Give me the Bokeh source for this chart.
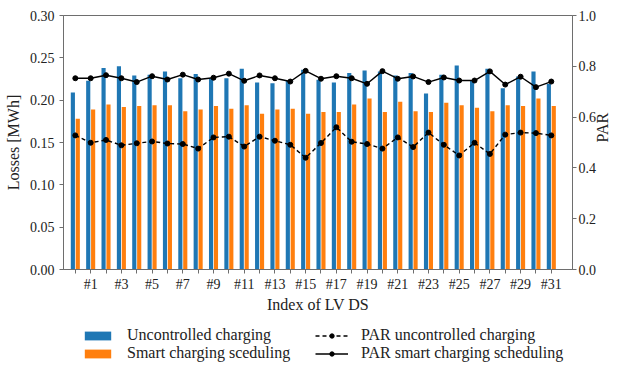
import math
from bokeh.plotting import figure
from bokeh.layouts import column
from bokeh.models import (ColumnDataSource, Range1d, LinearAxis, FixedTicker,
                          Legend, LegendItem, NumeralTickFormatter)
from bokeh.transform import dodge
from bokeh.embed import file_html
from bokeh.resources import INLINE

# Index of LV distribution systems (0..31) and their tick labels
ds_index = list(range(32))
tick_labels = {i: (f"#{i}" if i % 2 == 1 else "") for i in ds_index}

# Energy losses per LV DS [MWh]
losses_uncontrolled = [0.209, 0.223, 0.238, 0.240, 0.229, 0.230, 0.234, 0.226,
                       0.231, 0.225, 0.226, 0.237, 0.221, 0.220, 0.223, 0.236,
                       0.224, 0.221, 0.232, 0.235, 0.234, 0.229, 0.232, 0.208,
                       0.230, 0.241, 0.223, 0.237, 0.214, 0.228, 0.234, 0.219]
losses_smart = [0.178, 0.189, 0.195, 0.192, 0.193, 0.194, 0.194, 0.187,
                0.189, 0.193, 0.190, 0.194, 0.184, 0.189, 0.190, 0.184,
                0.186, 0.186, 0.195, 0.202, 0.186, 0.198, 0.187, 0.186,
                0.197, 0.194, 0.191, 0.187, 0.194, 0.193, 0.202, 0.193]

# Peak-to-average ratio per LV DS
par_uncontrolled = [0.528, 0.499, 0.510, 0.489, 0.497, 0.504, 0.496, 0.494,
                    0.476, 0.520, 0.523, 0.484, 0.523, 0.507, 0.491, 0.440,
                    0.498, 0.560, 0.503, 0.494, 0.476, 0.520, 0.482, 0.539,
                    0.491, 0.449, 0.499, 0.455, 0.531, 0.539, 0.537, 0.528]
par_smart = [0.753, 0.753, 0.765, 0.753, 0.738, 0.761, 0.748, 0.767,
             0.748, 0.755, 0.771, 0.743, 0.764, 0.753, 0.740, 0.782,
             0.751, 0.761, 0.753, 0.731, 0.781, 0.751, 0.760, 0.738,
             0.756, 0.744, 0.744, 0.780, 0.728, 0.759, 0.718, 0.740]

series_labels = ["Uncontrolled charging", "Smart charging sceduling",
                 "PAR uncontrolled charging", "PAR smart charging scheduling"]

src = ColumnDataSource(dict(x=ds_index,
                            unc=losses_uncontrolled, smart=losses_smart,
                            par_unc=par_uncontrolled, par_smart=par_smart))

SERIF = "Liberation Serif"
SPINE = "#6e6e6e"
BLUE = "#1f77b4"
ORANGE = "#ff7f0e"
TEXT = "#222222"
LINE_W = 1.4
DASH = "4 3"

p = figure(width=622, height=320, output_backend="svg", toolbar_location=None,
           x_range=Range1d(-0.77, 32.38), y_range=Range1d(0, 0.30),
           min_border_left=63, min_border_right=41, min_border_top=15,
           min_border_bottom=51)
p.extra_y_ranges = {"par": Range1d(0, 1.0)}
p.xgrid.visible = False
p.ygrid.visible = False
p.outline_line_color = SPINE
p.outline_line_width = 1
p.background_fill_color = "white"
p.border_fill_color = "white"

bar_w = 0.27
p.vbar(x=dodge("x", -0.16, range=p.x_range), top="unc", width=bar_w,
       source=src, fill_color=BLUE, line_color=None)
p.vbar(x=dodge("x", 0.16, range=p.x_range), top="smart", width=bar_w,
       source=src, fill_color=ORANGE, line_color=None)

p.line("x", "par_unc", source=src, y_range_name="par",
       line_color="black", line_width=LINE_W, line_dash=DASH)
p.scatter("x", "par_unc", source=src, y_range_name="par", size=5, color="black")
p.line("x", "par_smart", source=src, y_range_name="par",
       line_color="black", line_width=LINE_W)
p.scatter("x", "par_smart", source=src, y_range_name="par", size=5, color="black")

def style_axis(ax):
    ax.axis_line_color = SPINE
    ax.major_tick_line_color = SPINE
    ax.minor_tick_line_color = None
    ax.major_tick_out = 4
    ax.major_tick_in = 0
    ax.major_label_text_font = SERIF
    ax.major_label_text_font_size = "14px"
    ax.major_label_text_color = TEXT
    ax.axis_label_text_font = SERIF
    ax.axis_label_text_font_size = "16px"
    ax.axis_label_text_font_style = "normal"
    ax.axis_label_text_color = TEXT

# x axis
xa = p.xaxis[0]
style_axis(xa)
xa.ticker = FixedTicker(ticks=ds_index)
xa.major_label_overrides = tick_labels
xa.axis_label = "Index of LV DS"
xa.major_label_standoff = 3
xa.axis_label_standoff = 1

# left axis
ya = p.yaxis[0]
style_axis(ya)
ya.ticker = FixedTicker(ticks=[0, 0.05, 0.10, 0.15, 0.20, 0.25, 0.30])
ya.formatter = NumeralTickFormatter(format="0.00")
ya.axis_label = "Losses [MWh]"
ya.major_label_standoff = 5
ya.axis_label_standoff = 5

# right axis for PAR
ra = LinearAxis(y_range_name="par", axis_label="PAR",
                ticker=FixedTicker(ticks=[0, 0.2, 0.4, 0.6, 0.8, 1.0]),
                formatter=NumeralTickFormatter(format="0.0"))
style_axis(ra)
ra.major_label_standoff = 2
ra.axis_label_standoff = 3
ra.axis_label_orientation = math.pi / 2
p.add_layout(ra, "right")

# legend strip under the chart; its key renderers share the series data
# but stay hidden, so only the legend keys are drawn
lg = figure(width=622, height=47, output_backend="svg", toolbar_location=None,
            x_range=Range1d(-0.77, 32.38), y_range=Range1d(0, 1),
            min_border=0, x_axis_type=None, y_axis_type=None)
lg.xgrid.visible = False
lg.ygrid.visible = False
lg.outline_line_color = None
lg.border_fill_color = "white"

k_unc = lg.vbar(x="x", top="unc", width=bar_w, source=src,
                fill_color=BLUE, line_color=None, visible=False)
k_smart = lg.vbar(x="x", top="smart", width=bar_w, source=src,
                  fill_color=ORANGE, line_color=None, visible=False)
k_lu = lg.line("x", "par_unc", source=src, line_color="black",
               line_width=LINE_W, line_dash=DASH, visible=False)
k_mu = lg.scatter("x", "par_unc", source=src, size=4, color="black", visible=False)
k_ls = lg.line("x", "par_smart", source=src, line_color="black",
               line_width=LINE_W, visible=False)
k_ms = lg.scatter("x", "par_smart", source=src, size=4, color="black", visible=False)

legend = Legend(items=[
    LegendItem(label=series_labels[0], renderers=[k_unc]),
    LegendItem(label=series_labels[1], renderers=[k_smart]),
    LegendItem(label=series_labels[2], renderers=[k_lu, k_mu]),
    LegendItem(label=series_labels[3], renderers=[k_ls, k_ms]),
], orientation="vertical", nrows=2, location=(18, 5))
legend.border_line_color = None
legend.background_fill_alpha = 0
legend.inactive_fill_alpha = 0
legend.label_text_font = SERIF
legend.label_text_font_size = "16px"
legend.label_text_color = TEXT
legend.glyph_width = 33
legend.glyph_height = 11
legend.label_height = 16
legend.label_width = 188
legend.label_standoff = 13
legend.spacing = 0
legend.padding = 0
legend.margin = 0
lg.add_layout(legend, "center")

layout = column(p, lg, spacing=0)
open("out.html", "w").write(file_html(layout, INLINE))
